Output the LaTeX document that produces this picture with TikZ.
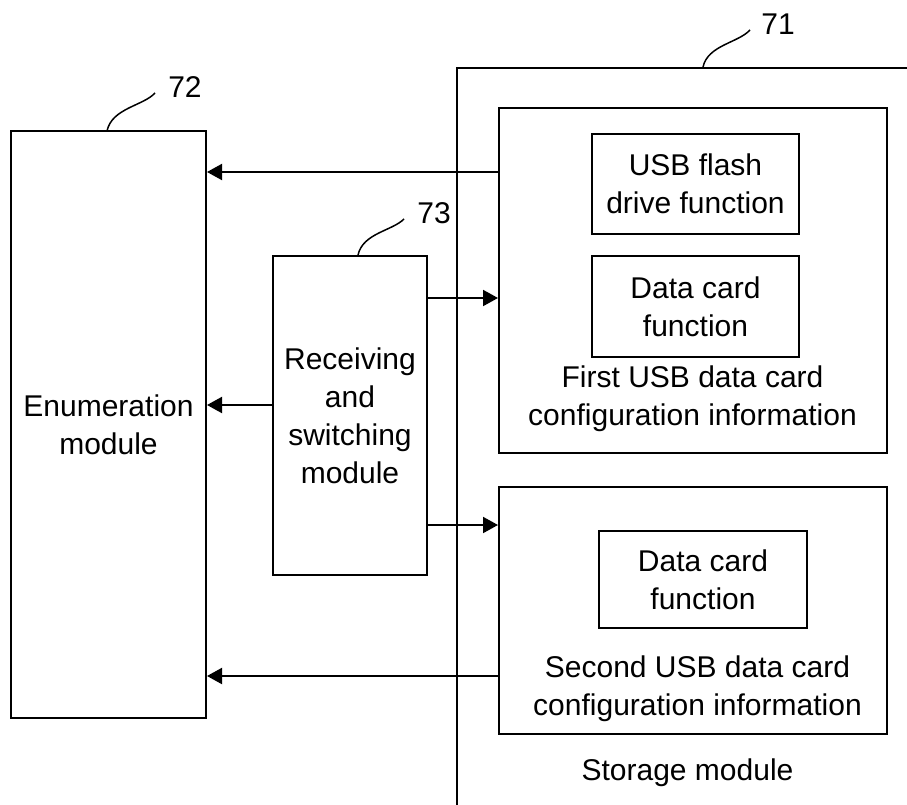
\documentclass[tikz,border=0pt]{standalone}
\usepackage{fontspec}
\setmainfont{Liberation Sans}
\usetikzlibrary{arrows.meta}

\begin{document}
\begin{tikzpicture}[x=1pt, y=-1pt, line width=2pt,
	box/.style={draw, align=center, inner sep=0pt},
	txt/.style={align=center, inner sep=0pt},
	arr/.style={-{Triangle[length=15pt,width=16pt]}}]
			%%%%% START %%%%%
			\fontsize{30}{38}\selectfont
			\useasboundingbox (0, 0) rectangle (907, 805);
			
			% storage module outline
			\coordinate (stbot) at (457, 805);
			\coordinate (sttop) at (457, 68);
			\coordinate (stright) at (907, 68);
			\draw (stbot) -- (sttop) -- (stright);
			
			\node[box, minimum width=195pt, minimum height=587pt] (enum) at (108.5, 424.5) {Enumeration\\module};
			\node[box, minimum width=154pt, minimum height=319pt] (recv) at (350, 415.5) {Receiving\\and\\switching\\module};
			
			\node[box, minimum width=388pt, minimum height=345pt] (first) at (693, 280.5) {};
			\node[box, minimum width=207pt, minimum height=100pt] (flash) at (695.5, 184) {USB flash\\drive function};
			\node[box, minimum width=207pt, minimum height=101pt] (card1) at (695.5, 306.5) {Data card\\function};
			\node[txt] (firsttxt) at (692.5, 399) {First USB data card\\configuration information};
			
			\node[box, minimum width=388pt, minimum height=247pt] (second) at (693, 610.5) {};
			\node[box, minimum width=208pt, minimum height=97pt] (card2) at (703, 579.5) {Data card\\function};
			\node[txt] (secondtxt) at (697.5, 689) {Second USB data card\\configuration information};
			
			\node[txt] (sttxt) at (687.5, 773) {Storage module};
			
			% arrows
			\draw[arr] (first.west |- 0, 172) -- (enum.east |- 0, 172);
			\draw[arr] (recv.west |- 0, 405) -- (enum.east |- 0, 405);
			\draw[arr] (second.west |- 0, 676) -- (enum.east |- 0, 676);
			\draw[arr] (recv.east |- 0, 298) -- (first.west |- 0, 298);
			\draw[arr] (recv.east |- 0, 525) -- (second.west |- 0, 525);
			
			% reference numerals
			\draw[line width=1.5pt] (107, 131) .. controls (112, 108) and (143, 106) .. (155, 93);
			\node[txt] (n72) at (185, 87) {72};
			\draw[line width=1.5pt] (358, 255) .. controls (363, 233) and (392, 231) .. (404, 219);
			\node[txt] (n73) at (434, 213) {73};
			\draw[line width=1.5pt] (703, 67) .. controls (708, 45) and (738, 43) .. (750, 30);
			\node[txt] (n71) at (778, 24) {71};
			
			%%%%% END %%%%%
		\end{tikzpicture}
\end{document}
